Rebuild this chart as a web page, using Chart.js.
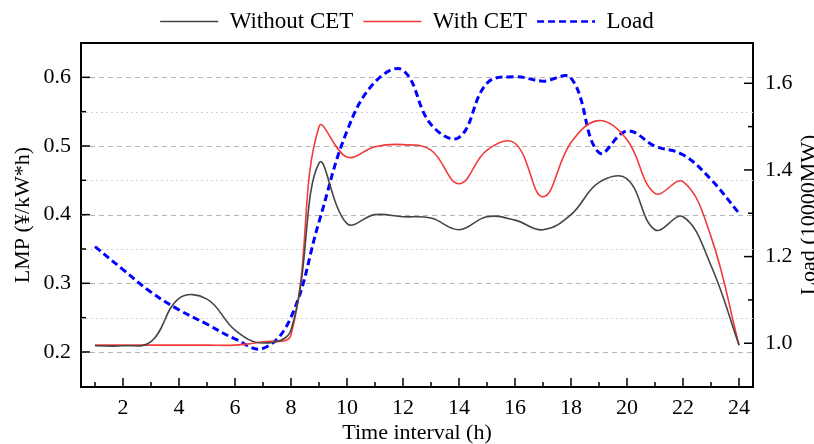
<!DOCTYPE html>
<html>
<head>
<meta charset="utf-8">
<script src="https://cdn.jsdelivr.net/npm/chart.js@4.4.1/dist/chart.umd.min.js"></script>
<style>
  html, body { margin: 0; padding: 0; background: #fff; overflow: hidden; }
  #wrap { width: 814px; height: 444px; }
</style>
</head>
<body>
<div id="wrap"><canvas id="lmp"></canvas></div>
<script>
    // hours on the x axis
    const hours = [1, 2, 3, 4, 5, 6, 7, 8, 9, 10, 11, 12, 13, 14, 15, 16, 17, 18, 19, 20, 21, 22, 23, 24];

    // LMP, yuan per kWh
    const withoutCET = [0.209, 0.209, 0.215, 0.278, 0.277, 0.232, 0.213, 0.232, 0.475, 0.387, 0.400, 0.397,
                        0.395, 0.378, 0.397, 0.392, 0.378, 0.400, 0.447, 0.452, 0.378, 0.397, 0.326, 0.210];
    const withCET = [0.210, 0.210, 0.210, 0.210, 0.210, 0.210, 0.215, 0.225, 0.528, 0.484, 0.499, 0.502,
                     0.494, 0.445, 0.494, 0.504, 0.426, 0.505, 0.537, 0.509, 0.431, 0.448, 0.368, 0.210];

    // load, 10000 MW
    const load = [1.223, 1.170, 1.118, 1.077, 1.044, 1.010, 0.988, 1.060, 1.280, 1.490, 1.603, 1.630,
                  1.505, 1.475, 1.600, 1.615, 1.605, 1.612, 1.440, 1.490, 1.455, 1.435, 1.378, 1.300];

    // tick labels
    const lmpTicks = [0.2, 0.3, 0.4, 0.5, 0.6];
    const lmpMinor = [0.25, 0.35, 0.45, 0.55];
    const loadTicks = [1.0, 1.2, 1.4, 1.6];
    const loadMinor = [1.1, 1.3, 1.5];

    const serif = 'Liberation Serif';

    // dashed grid, inward ticks, top frame line and the right title
    const frame = {
        id: 'frame',
        beforeDatasetsDraw(chart) {
            const {ctx, chartArea: a} = chart;
            const y = chart.scales.y;
            ctx.save();
            ctx.lineWidth = 1;
            ctx.strokeStyle = '#d2d2d2';
            ctx.setLineDash([2, 3]);
            lmpMinor.forEach(v => {
                const py = Math.round(y.getPixelForValue(v)) + 0.5;
                ctx.beginPath(); ctx.moveTo(a.left, py); ctx.lineTo(a.right, py); ctx.stroke();
            });
            ctx.strokeStyle = '#b4b4b4';
            ctx.setLineDash([5, 4]);
            lmpTicks.forEach(v => {
                const py = Math.round(y.getPixelForValue(v)) + 0.5;
                ctx.beginPath(); ctx.moveTo(a.left, py); ctx.lineTo(a.right, py); ctx.stroke();
            });
            ctx.restore();
        },
        afterDraw(chart) {
            const {ctx, chartArea: a, scales} = chart;
            ctx.save();
            ctx.strokeStyle = '#000';
            ctx.lineWidth = 1.5;
            const tick = (x1, y1, x2, y2) => {
                ctx.beginPath(); ctx.moveTo(x1, y1); ctx.lineTo(x2, y2); ctx.stroke();
            };
            lmpTicks.forEach(v => { const p = scales.y.getPixelForValue(v); tick(a.left, p, a.left + 9, p); });
            lmpMinor.forEach(v => { const p = scales.y.getPixelForValue(v); tick(a.left, p, a.left + 5, p); });
            loadTicks.forEach(v => { const p = scales.y1.getPixelForValue(v); tick(a.right, p, a.right - 9, p); });
            loadMinor.forEach(v => { const p = scales.y1.getPixelForValue(v); tick(a.right, p, a.right - 5, p); });
            hours.forEach((h, i) => {
                const p = scales.x.getPixelForValue(i);
                tick(p, a.bottom, p, a.bottom - (h % 2 === 0 ? 9 : 5));
            });
            ctx.lineWidth = 2;
            tick(a.left - 1, a.top, a.right + 1, a.top);

            ctx.fillStyle = '#000';
            ctx.font = '22px "' + serif + '"';
            ctx.textAlign = 'center';
            ctx.textBaseline = 'middle';
            ctx.translate(809, (a.top + a.bottom) / 2);
            ctx.rotate(-Math.PI / 2);
            ctx.fillText('Load (10000MW)', 0, 0);
            ctx.restore();
        }
    };

    const ctx = document.getElementById('lmp');
    new Chart(ctx, {
        type: 'line',
        data: {
            labels: hours,
            datasets: [{
                label: 'Without CET',
                data: withoutCET,
                yAxisID: 'y',
                borderColor: '#454545',
                borderWidth: 1.6,
                pointRadius: 0,
                tension: 0.4
            }, {
                label: 'With CET',
                data: withCET,
                yAxisID: 'y',
                borderColor: '#f23a3a',
                borderWidth: 1.6,
                pointRadius: 0,
                tension: 0.4
            }, {
                label: 'Load',
                data: load,
                yAxisID: 'y1',
                borderColor: '#0000ff',
                borderWidth: 3,
                borderDash: [7, 4],
                pointRadius: 0,
                tension: 0.4
            }]
        },
        options: {
            responsive: true,
            maintainAspectRatio: false,
            animation: false,
            layout: { padding: 0 },
            plugins: {
                tooltip: { enabled: false },
                legend: {
                    position: 'top',
                    labels: {
                        usePointStyle: true,
                        pointStyle: 'line',
                        pointStyleWidth: 58,
                        padding: 10,
                        color: '#000',
                        font: { family: serif, size: 23 },
                        generateLabels: chart => Chart.defaults.plugins.legend.labels.generateLabels(chart).map((item, i) => {
                            const ds = chart.data.datasets[i];
                            item.lineDash = ds.borderDash || [];
                            item.lineWidth = i === 2 ? 2.5 : 1.6;
                            item.strokeStyle = ds.borderColor;
                            return item;
                        })
                    }
                }
            },
            scales: {
                x: {
                    offset: true,
                    grid: { display: false, drawTicks: false },
                    border: { color: '#000', width: 2 },
                    ticks: {
                        autoSkip: false,
                        maxRotation: 0,
                        padding: 8,
                        color: '#000',
                        font: { family: serif, size: 22 },
                        callback: (v, i) => hours[i] % 2 === 0 ? hours[i] : ''
                    },
                    title: {
                        display: true,
                        text: 'Time interval (h)',
                        color: '#000',
                        padding: 0,
                        font: { family: serif, size: 22, lineHeight: 1 }
                    },
                    afterFit: s => { s.height = 57; }
                },
                y: {
                    position: 'left',
                    min: 0.149,
                    max: 0.65,
                    grid: { display: false, drawTicks: false },
                    border: { color: '#000', width: 2 },
                    afterBuildTicks: s => { s.ticks = lmpTicks.map(v => ({ value: v })); },
                    ticks: {
                        padding: 10,
                        color: '#000',
                        font: { family: serif, size: 22 },
                        callback: v => v.toFixed(1)
                    },
                    title: {
                        display: true,
                        text: 'LMP (¥/kW*h)',
                        color: '#000',
                        padding: { top: 12, bottom: 0 },
                        font: { family: serif, size: 22, lineHeight: 1 }
                    },
                    afterFit: s => { s.width = 81; }
                },
                y1: {
                    position: 'right',
                    min: 0.899,
                    max: 1.693,
                    grid: { display: false, drawTicks: false },
                    border: { color: '#000', width: 2 },
                    afterBuildTicks: s => { s.ticks = loadTicks.map(v => ({ value: v })); },
                    ticks: {
                        padding: 12,
                        color: '#000',
                        font: { family: serif, size: 22 },
                        callback: v => v.toFixed(1)
                    },
                    afterFit: s => { s.width = 61; }
                }
            }
        },
        plugins: [frame]
    });
</script>
</body>
</html>
